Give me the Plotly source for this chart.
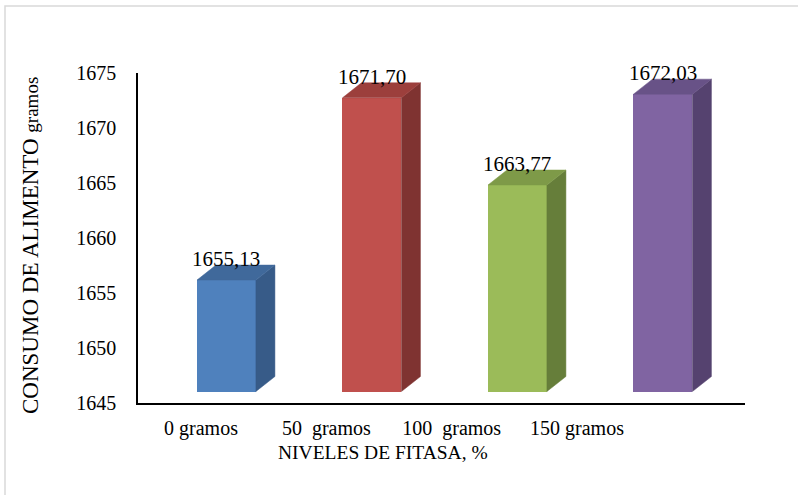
import plotly.graph_objects as go

# Feed consumption per phytase level
categories = ["0 gramos", "50\u00a0 gramos", "100\u00a0 gramos", "150 gramos"]
consumo = [1655.13, 1671.70, 1663.77, 1672.03]
value_labels = ["1655,13", "1671,70", "1663,77", "1672,03"]
y_ticks = [1645, 1650, 1655, 1660, 1665, 1670, 1675]

front_colors = ["#4F81BD", "#C0504D", "#9BBB59", "#8064A2"]
top_colors = ["#40699B", "#9C3F3C", "#7E9A48", "#685287"]
side_colors = ["#375B88", "#7F3331", "#667E3A", "#55426F"]

FONT = "Liberation Serif, Times New Roman, serif"
BASE = 1645          # floor of the bars
BAR_W = 0.405        # bar width in category units
DEPTH_X = 0.1306     # 3-D depth offset (category units)
DEPTH_Y = 1.364      # 3-D depth offset (value units)

fig = go.Figure()

# empty trace so the primary axes are laid out
fig.add_trace(go.Scatter(x=[], y=[], showlegend=False, hoverinfo="skip"))

pos = list(range(len(categories)))

# front faces
fig.add_trace(go.Bar(
    x=pos, y=[v - BASE for v in consumo], base=BASE, width=BAR_W,
    marker=dict(color=front_colors, line=dict(width=0)),
    xaxis="x2", yaxis="y2", showlegend=False,
    customdata=value_labels, hovertemplate="%{customdata}<extra></extra>",
))

# side and top faces
for i, v in enumerate(consumo):
    left, right = i - BAR_W / 2, i + BAR_W / 2
    fig.add_trace(go.Scatter(
        x=[right, right + DEPTH_X, right + DEPTH_X, right, right],
        y=[BASE, BASE + DEPTH_Y, v + DEPTH_Y, v, BASE],
        fill="toself", fillcolor=side_colors[i], mode="lines",
        line=dict(width=0.5, color=side_colors[i]),
        xaxis="x2", yaxis="y2", showlegend=False, hoverinfo="skip",
    ))
    fig.add_trace(go.Scatter(
        x=[left, right, right + DEPTH_X, left + DEPTH_X, left],
        y=[v, v, v + DEPTH_Y, v + DEPTH_Y, v],
        fill="toself", fillcolor=top_colors[i], mode="lines",
        line=dict(width=0.5, color=top_colors[i]),
        xaxis="x2", yaxis="y2", showlegend=False, hoverinfo="skip",
    ))

# value labels above each bar
annotations = [
    dict(x=i, y=v + DEPTH_Y, xref="x2", yref="y2", text=lab,
         showarrow=False, xanchor="center", yanchor="bottom", yshift=-8,
         font=dict(family=FONT, size=21, color="black"))
    for i, (v, lab) in enumerate(zip(consumo, value_labels))
]

# axis titles
annotations.append(dict(
    x=(382.5 - 138) / 607, y=(403 - 452) / 330, xref="paper", yref="paper",
    text="NIVELES DE FITASA, %", showarrow=False,
    xanchor="center", yanchor="middle",
    font=dict(family=FONT, size=19.5, color="black"),
))
annotations.append(dict(
    x=(31 - 138) / 607, y=(403 - 246) / 330, xref="paper", yref="paper",
    text="CONSUMO DE ALIMENTO <span style='font-size:19px'>gramos</span>",
    showarrow=False, textangle=-90, xanchor="center", yanchor="middle",
    font=dict(family=FONT, size=23, color="black"),
))

fig.update_layout(
    width=798, height=495, autosize=False,
    margin=dict(l=138, r=53, t=73, b=92),
    paper_bgcolor="white", plot_bgcolor="white",
    showlegend=False, bargap=0,
    font=dict(family=FONT, size=20, color="black"),
    xaxis=dict(
        range=[-0.5027, 4.3405], tickvals=pos, ticktext=categories,
        showgrid=False, zeroline=False, showline=True,
        linecolor="black", linewidth=1.5, ticks="", ticklabelstandoff=6,
        tickfont=dict(family=FONT, size=20, color="black"),
    ),
    yaxis=dict(
        range=[1645, 1675], tickvals=y_ticks,
        showgrid=False, zeroline=False, showline=True,
        linecolor="black", linewidth=1.5, ticks="", ticklabelstandoff=16,
        tickfont=dict(family=FONT, size=20, color="black"),
    ),
    xaxis2=dict(range=[-0.608, 3.564], overlaying="x", visible=False),
    yaxis2=dict(range=[1643.955, 1673.955], overlaying="y", visible=False),
    annotations=annotations,
    shapes=[dict(
        type="rect", xref="paper", yref="paper",
        x0=(5 - 138) / 607, x1=(820 - 138) / 607,
        y0=(403 - 520) / 330, y1=(403 - 6) / 330,
        line=dict(color="#D9D9D9", width=1.5), layer="below",
    )],
)

fig.write_html("out.html")
